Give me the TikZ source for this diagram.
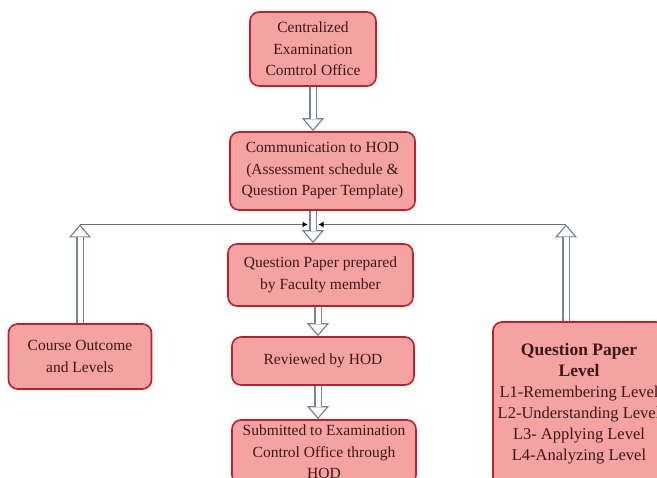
\documentclass[tikz,border=0pt]{standalone}
\usepackage{fontspec}
\setmainfont{Liberation Serif}
\usetikzlibrary{arrows.meta,calc}
\definecolor{boxfill}{RGB}{244,162,162}
\definecolor{boxdraw}{RGB}{192,32,44}
\definecolor{boxtext}{RGB}{60,25,25}
\definecolor{arrgray}{RGB}{120,132,148}
\definecolor{linegray}{RGB}{110,110,110}
\newcommand\hollowarrow[2]{%
  \draw[head] ($(#2)!13pt!(#1)$) -- (#2);
  \draw[shaft] (#1) -- ($(#2)!12.2pt!(#1)$);}
\begin{document}
\begin{tikzpicture}[x=1pt,y=-1pt,
  box/.style={draw=boxdraw, line width=1.6pt, fill=boxfill, rounded corners=9pt,
    align=center, text=boxtext, inner sep=1pt, font=\fontsize{15.5}{21.5}\selectfont},
  shaft/.style={draw=arrgray, line width=1.2pt, double=white, double distance=5pt},
  head/.style={draw=arrgray, line width=1.2pt, -{Triangle[open, length=13pt, width=22pt]}},
  hline/.style={draw=linegray, line width=1.3pt, -{Latex[black, length=5pt, width=6pt]}}]
\clip (0,0) rectangle (657,478);
\fill[white] (0,0) rectangle (657,478);

\node[box, minimum width=126pt, minimum height=74pt] (b1) at (313,49)
  {Centralized\\Examination\\Comtrol Office};
\node[box, minimum width=185pt, minimum height=78pt] (b2) at (322.5,171)
  {Communication to HOD\\(Assessment schedule \&\\Question Paper Template)};
\node[box, minimum width=185pt, minimum height=62pt] (b3) at (320.5,275)
  {Question Paper prepared\\by Faculty member};
\node[box, minimum width=182pt, minimum height=48pt] (b4) at (323,361)
  {Reviewed by HOD};
\node[box, minimum width=184pt, minimum height=64pt] (b5) at (324,452)
  {Submitted to Examination\\Control Office through\\HOD};
\node[box, minimum width=143pt, minimum height=65pt] (co) at (80,356.5)
  {Course Outcome\\and Levels};
\node[box, minimum width=172pt, minimum height=164pt, font=\fontsize{16.5}{21}\selectfont] (qpl) at (579,404)
  {{\bfseries\fontsize{17.5}{21}\selectfont Question Paper}\\{\bfseries\fontsize{17.5}{20}\selectfont Level}\\L1-Remembering Level\\L2-Understanding Level\\L3- Applying Level\\L4-Analyzing Level};

\coordinate (t1) at (b1.south |- b2.north);
\coordinate (s2) at (b1.south |- b2.south);
\coordinate (t2) at (b1.south |- b3.north);
\coordinate (s3) at ([xshift=-2.5pt]b3.south);
\coordinate (t3) at (s3 |- b4.north);
\coordinate (s4) at (s3 |- b4.south);
\coordinate (t4) at (s3 |- b5.north);
\coordinate (jl) at (80,224.5);
\coordinate (jr) at (566,224.5);
\coordinate (qs) at (qpl.north -| jr);
\coordinate (ml) at (307.5,224.5);
\coordinate (mr) at (318.5,224.5);

\draw[hline] (jl) -- (ml);
\draw[hline] (jr) -- (mr);

\hollowarrow{b1.south}{t1}
\hollowarrow{s2}{t2}
\hollowarrow{s3}{t3}
\hollowarrow{s4}{t4}
\hollowarrow{co.north}{jl}
\hollowarrow{qs}{jr}
\end{tikzpicture}
\end{document}
